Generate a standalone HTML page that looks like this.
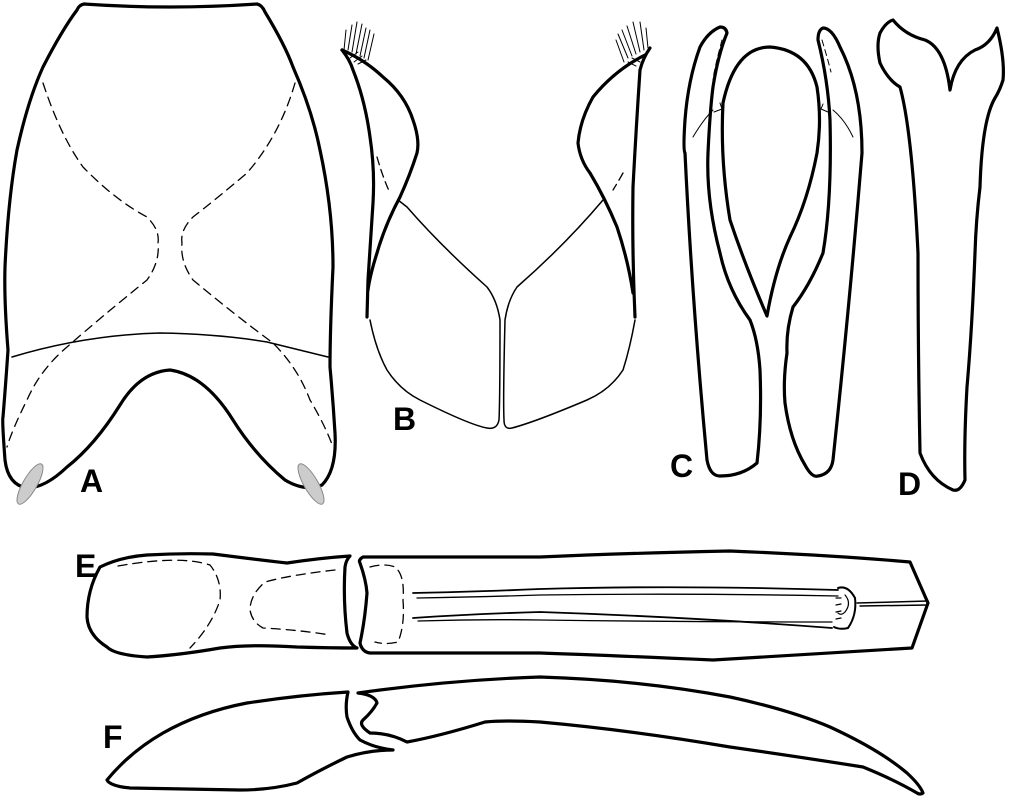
<!DOCTYPE html>
<html><head><meta charset="utf-8"><style>
html,body{margin:0;padding:0;background:#fff;}
svg{display:block;}
text{font-family:"Liberation Sans",sans-serif;font-weight:bold;font-size:32px;fill:#000;}
</style></head><body>
<svg width="1024" height="801" viewBox="0 0 1024 801" xmlns="http://www.w3.org/2000/svg">
<g fill="none" stroke="#000" stroke-linejoin="round" stroke-linecap="round">
<!-- A -->
<path stroke-width="3.2" d="M84,4 Q170,10 257,4 Q262,5 265,12 Q285,45 293,67 Q312,110 320,150 Q333,210 333,267 Q330,330 330,367 Q333,400 335,433 Q337,470 322,485 Q305,492 285,480 Q255,455 233,420 Q205,375 170,370 Q140,372 120,405 Q95,445 67,467 Q45,488 27,488 Q8,485 5,460 Q2,420 3,417 Q6,380 8,350 Q4,300 5,267 Q8,200 17,150 Q28,100 43,67 Q62,30 77,10 Q79,5 84,4 Z"/>
<path stroke-width="1.5" d="M12,357 Q85,335 160,333 Q220,334 267,342 Q300,350 328,357"/>
<path stroke-width="1.3" stroke-dasharray="9,6" d="M43,83 Q60,135 83,167 Q115,200 147,217 Q160,230 158,243 Q160,262 147,280 Q100,318 67,347 Q40,370 27,400 Q12,430 7,447"/>
<path stroke-width="1.3" stroke-dasharray="9,6" d="M295,83 Q280,135 247,173 Q215,200 193,217 Q180,230 182,243 Q180,262 193,280 Q235,315 273,343 Q298,368 310,400 Q325,425 333,447"/>
<ellipse cx="30" cy="484" rx="7" ry="23" transform="rotate(30 30 484)" fill="#ccc" stroke="#888" stroke-width="1"/>
<ellipse cx="311" cy="484" rx="7" ry="23" transform="rotate(-30 311 484)" fill="#ccc" stroke="#888" stroke-width="1"/>
<!-- B left -->
<path stroke-width="3.2" d="M342,50 Q350,60 353,70 Q365,100 370,137 Q375,170 373,203 Q370,250 368,280 L367,317"/>
<path stroke-width="3.2" d="M342,50 Q365,60 383,77 Q405,95 413,120 Q420,140 417,153 Q410,175 400,197 Q385,225 377,253 Q370,275 368,290"/>
<path stroke-width="1.5" d="M370,320 Q376,350 387,370 Q400,390 420,400 Q470,425 487,428 Q497,430 499,420 Q500,400 500,320 Q497,300 487,287 Q440,245 407,207 L398,200"/>
<path stroke-width="1.3" stroke-dasharray="8,5" d="M377,157 Q383,178 390,193"/>
<!-- B right -->
<path stroke-width="3.2" d="M650,48 Q643,58 640,70 Q636,130 633,187 Q632,250 635,317"/>
<path stroke-width="3.2" d="M645,55 Q615,70 593,97 Q580,120 578,143 Q580,160 590,173 Q605,198 617,227 Q628,260 633,293"/>
<path stroke-width="1.5" d="M635,320 Q630,348 623,370 Q610,390 587,400 Q535,422 512,428 Q504,430 504,420 Q503,400 505,320 Q508,300 517,287 Q565,245 603,200"/>
<path stroke-width="1.3" stroke-dasharray="8,5" d="M623,173 Q618,182 613,190"/>
<!-- bristles -->
<g stroke-width="1">
<path d="M344,50 L346,30 M348,50 L352,25 M352,52 L357,22 M356,54 L362,24 M360,56 L366,28 M364,58 L370,30 M368,60 L374,34 M350,58 L358,52 M354,62 L362,56 M358,64 L366,60"/>
<path d="M648,48 L646,28 M644,50 L640,22 M640,52 L633,22 M636,54 L627,26 M632,56 L622,30 M628,58 L618,34 M624,62 L616,40 M640,62 L632,58 M636,66 L628,62"/>
</g>
<!-- C -->
<path stroke-width="3.2" d="M720,27 Q708,32 700,47 Q688,80 685,120 Q683,150 685,153 Q692,300 707,460 Q710,476 720,476 Q742,476 757,463 Q762,420 760,370 Q758,340 750,320 Q728,290 720,253 Q706,200 708,153 Q710,110 713,87 Q718,55 727,33 Q726,27 720,27 Z"/>
<path stroke-width="3.2" d="M767,316 Q745,265 730,220 Q720,160 723,103 Q735,47 770,47 Q808,50 817,87 Q822,120 817,153 Q808,200 790,237 Q775,270 767,316 Z"/>
<path stroke-width="3.2" d="M823,28 Q818,30 818,40 Q828,80 830,120 Q832,200 823,253 Q810,285 793,307 Q786,330 787,353 Q783,380 785,403 Q790,440 805,465 Q812,478 818,476 Q831,474 833,460 Q850,300 862,153 Q862,90 840,47 Q832,28 823,28 Z"/>
<path stroke-width="1" stroke-dasharray="6,4" d="M722,40 Q714,70 713,80"/>
<path stroke-width="1" stroke-dasharray="6,4" d="M822,40 Q828,60 831,72"/>
<path stroke-width="1" d="M693,137 Q703,120 713,110 M720,103 L722,109 L714,112 M853,137 Q845,120 833,110 M823,104 L821,109 L828,112"/>
<!-- D -->
<path stroke-width="3.2" d="M893,20 Q905,35 925,40 Q945,48 950,90 Q955,60 975,50 Q990,45 997,28 Q1005,60 1003,80 Q1000,90 995,98 Q982,120 980,187 Q976,220 975,253 Q972,330 967,387 Q964,440 965,480 Q960,492 953,490 Q930,480 920,453 Q918,350 918,253 Q912,130 900,87 Q888,80 880,63 Q876,45 880,33 Q886,22 893,20 Z"/>
<!-- E -->
<path stroke-width="3.2" d="M100,567 Q120,557 147,555 Q180,553 213,554 Q260,560 287,563 Q320,558 350,556 Q346,560 345,567 Q343,600 347,633 Q350,645 357,648 Q330,648 297,647 Q250,644 220,648 Q180,655 147,657 Q115,655 107,647 Q88,635 87,617 Q87,590 100,567 Z"/>
<path stroke-width="1.3" stroke-dasharray="9,6" d="M118,566 Q180,555 210,565 Q222,580 220,600 Q212,625 190,648"/>
<path stroke-width="1.3" stroke-dasharray="9,6" d="M335,570 Q290,575 265,582 Q250,595 250,610 Q252,622 263,628 Q300,630 330,635"/>
<path stroke-width="3.2" d="M363,557 Q358,560 360,563 Q366,580 367,593 Q365,620 360,643 Q362,652 370,653 L540,653 Q600,655 713,660 Q850,652 912,648 L928,603 L910,562 Q830,555 730,551 Q630,553 540,557 Z"/>
<path stroke-width="1.3" stroke-dasharray="9,6" d="M370,567 Q385,563 395,567 Q405,575 403,600 Q405,625 398,642 Q385,645 375,642"/>
<path stroke-width="1.8" d="M413,593 Q470,592 540,589 Q680,585 838,590"/>
<path stroke-width="1.3" d="M417,598 Q480,597 540,595 Q690,593 838,596"/>
<path stroke-width="1.8" d="M413,618 Q470,614 540,612 Q690,617 832,628"/>
<path stroke-width="1.3" d="M418,621 Q480,619 540,620 Q690,622 832,622"/>
<path stroke-width="2" d="M838,588 Q848,585 855,598 Q857,615 848,628 Q840,630 834,627"/>
<path stroke-width="1.2" d="M845,595 Q852,603 845,612 Q841,616 838,613 M836,598 L841,598 M836,605 L841,604 M836,612 L841,611 M836,619 L841,618"/>
<path stroke-width="1.5" d="M857,603 L928,601 M860,606 L928,605"/>
<!-- F -->
<path stroke-width="3.2" d="M107,780 Q130,752 163,733 Q200,712 247,703 Q300,695 348,692 Q345,705 347,717 Q352,732 360,740 Q375,748 393,750 Q370,750 347,757 Q320,770 297,783 Q270,790 240,790 L130,788 Q110,786 107,780 Z"/>
<path stroke-width="3.2" d="M358,693 Q450,680 540,677 Q640,680 730,697 Q790,710 830,727 Q880,750 907,773 Q920,785 923,793 Q920,795 917,793 Q895,780 863,767 Q800,757 730,747 Q630,730 540,722 Q505,720 485,722 Q440,736 407,742 Q390,733 370,733 Q358,725 363,720 Q372,712 377,703 Q375,695 358,693 Z"/>
</g>
<text x="80" y="492">A</text>
<text x="393" y="430">B</text>
<text x="670" y="477">C</text>
<text x="898" y="495">D</text>
<text x="75" y="577">E</text>
<text x="103" y="748">F</text>
</svg>
</body></html>
